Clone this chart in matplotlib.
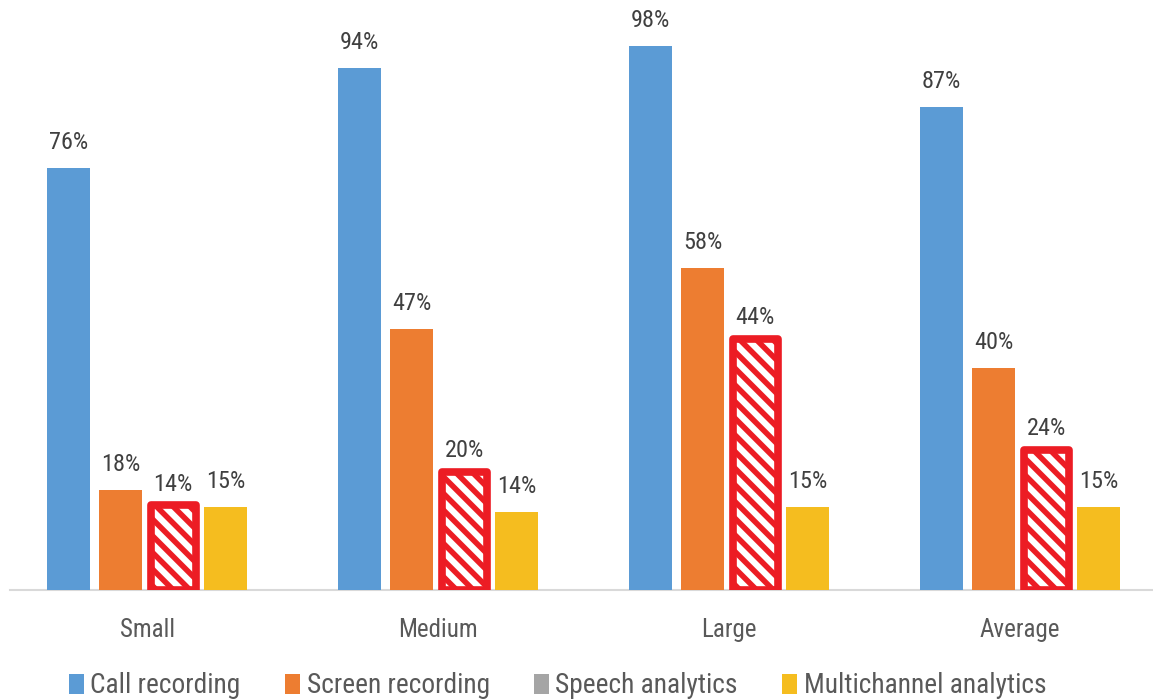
import matplotlib
matplotlib.use('Agg')
import matplotlib.pyplot as plt
from matplotlib.patches import Patch
import numpy as np

categories = ['Small', 'Medium', 'Large', 'Average']
series = ['Call recording', 'Screen recording', 'Speech analytics', 'Multichannel analytics']
call_rec = [76, 94, 98, 87]
screen_rec = [18, 47, 58, 40]
speech = [14, 20, 44, 24]
multi = [15, 14, 15, 15]

colors = ['#5B9BD5', '#ED7D31', '#A5A5A5', '#F5BD1F']
red = '#EC1C24'

plt.rcParams['font.family'] = ['Roboto Condensed', 'DejaVu Sans']
plt.rcParams['hatch.color'] = red
plt.rcParams['hatch.linewidth'] = 4

fig = plt.figure(figsize=(11.53, 6.99), dpi=100)
ax = fig.add_axes([0.0087, 0.156, 0.9948, 0.794])

x = np.arange(len(categories))
pitch = 0.18
width = 0.148
frame_pad = 1.3  # highlight frame sticks out a bit above the bar
values = [call_rec, screen_rec, speech, multi]

for k, vals in enumerate(values):
    pos = x + (k - 1.5) * pitch
    if k == 2:
        # speech analytics is highlighted: red frame with red stripes
        ax.bar(pos, np.array(vals) + frame_pad, 0.155, facecolor='white',
               edgecolor=red, linewidth=5.5, hatch='\\\\', joinstyle='round',
               zorder=3)
    else:
        ax.bar(pos, vals, width, color=colors[k], zorder=2)
    off = 12 if k == 2 else 10
    for p, v in zip(pos, vals):
        ax.annotate(f'{v}%', (p, v), xytext=(0, off), textcoords='offset points',
                    ha='center', va='bottom', fontsize=17.5, color='#404040',
                    zorder=4)

ax.set_xlim(-0.471, 3.471)
ax.set_ylim(0, 100)
ax.set_yticks([])
ax.set_xticks(x)
ax.set_xticklabels(categories, fontsize=18, color='#595959')
ax.tick_params(axis='x', length=0, pad=20)
for s in ['top', 'right', 'left']:
    ax.spines[s].set_visible(False)
ax.spines['bottom'].set_color('#D9D9D9')
ax.spines['bottom'].set_linewidth(1.5)
ax.spines['bottom'].set_zorder(1)

handles = [Patch(facecolor=c, edgecolor='none') for c in colors]
fig.legend(handles, series, loc='center', bbox_to_anchor=(0.4835, 0.0186),
           ncol=4, frameon=False, fontsize=19.75, handlelength=0.55,
           handleheight=0.75, handletextpad=0.25, columnspacing=1.6,
           labelcolor='#595959')

fig.savefig('out.png', dpi=100)
